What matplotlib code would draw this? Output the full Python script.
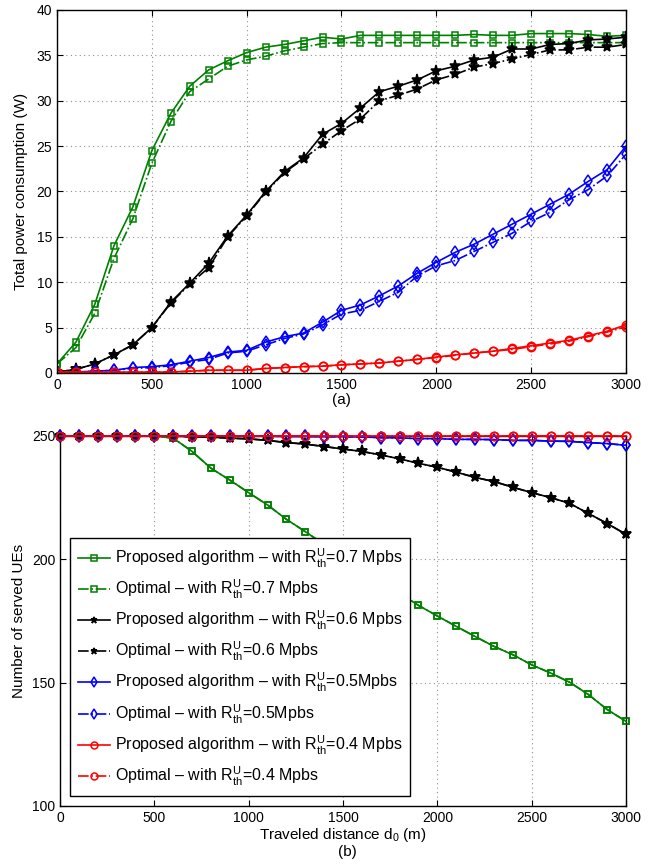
import numpy as np
import matplotlib
matplotlib.use("Agg")
import matplotlib.pyplot as plt

plt.rcParams['font.family'] = ['Liberation Sans', 'DejaVu Sans']
plt.rcParams['mathtext.fontset'] = 'custom'
plt.rcParams['mathtext.rm'] = 'Liberation Sans'
plt.rcParams['mathtext.it'] = 'Liberation Sans'

# traveled distance (m), one sample every 100 m
dist = list(range(0, 3001, 100))

# (a) total power consumption (W)
pw_prop_07 = [1.0, 3.4, 7.6, 14.0, 18.3, 24.5, 28.6, 31.6, 33.4, 34.4, 35.3, 35.9, 36.2, 36.6, 37.0, 36.8,
              37.2, 37.2, 37.2, 37.2, 37.2, 37.2, 37.3, 37.2, 37.2, 37.4, 37.4, 37.4, 37.3, 37.1, 37.2]
pw_opt_07 = [1.0, 2.8, 6.6, 12.6, 17.0, 23.1, 27.7, 31.0, 32.4, 33.8, 34.5, 34.9, 35.5, 35.9, 36.3, 36.4,
             36.4, 36.4, 36.4, 36.4, 36.4, 36.4, 36.4, 36.4, 36.4, 36.4, 36.4, 36.4, 36.4, 36.4, 36.4]
pw_prop_06 = [0.1, 0.4, 1.0, 2.0, 3.1, 5.0, 7.8, 9.9, 12.1, 15.1, 17.4, 20.0, 22.2, 23.7, 26.3, 27.5,
              29.2, 31.0, 31.6, 32.3, 33.3, 33.8, 34.5, 34.8, 35.7, 35.7, 36.2, 36.3, 36.7, 36.8, 37.0]
pw_opt_06 = [0.1, 0.4, 1.0, 2.0, 3.1, 5.0, 7.7, 9.8, 11.6, 15.0, 17.3, 19.9, 22.1, 23.6, 25.2, 26.7,
             28.0, 30.0, 30.6, 31.3, 32.3, 32.9, 33.7, 34.1, 34.6, 35.1, 35.6, 35.6, 35.9, 35.9, 36.2]
pw_prop_05 = [0.1, 0.1, 0.2, 0.3, 0.6, 0.7, 0.9, 1.3, 1.7, 2.3, 2.5, 3.4, 4.0, 4.4, 5.6, 6.9,
              7.5, 8.5, 9.6, 11.0, 12.2, 13.3, 14.2, 15.3, 16.4, 17.5, 18.6, 19.7, 21.1, 22.4, 25.0]
pw_opt_05 = [0.1, 0.1, 0.2, 0.3, 0.5, 0.6, 0.8, 1.2, 1.5, 2.2, 2.4, 3.1, 3.8, 4.3, 5.3, 6.5,
             6.9, 7.9, 8.9, 10.7, 11.8, 12.4, 13.4, 14.4, 15.4, 16.7, 17.7, 19.1, 20.2, 21.7, 24.1]
pw_prop_04 = [0.1, 0.1, 0.1, 0.1, 0.1, 0.1, 0.1, 0.2, 0.3, 0.3, 0.3, 0.5, 0.6, 0.7, 0.75, 0.9,
              1.0, 1.1, 1.3, 1.5, 1.75, 2.0, 2.2, 2.4, 2.7, 3.0, 3.3, 3.6, 4.1, 4.6, 5.3]
pw_opt_04 = [0.1, 0.1, 0.1, 0.1, 0.1, 0.1, 0.1, 0.2, 0.3, 0.3, 0.3, 0.5, 0.6, 0.7, 0.75, 0.9,
             1.0, 1.1, 1.3, 1.5, 1.7, 1.95, 2.2, 2.4, 2.6, 2.9, 3.2, 3.5, 4.0, 4.5, 5.1]

# (b) number of served UEs
ue_07 = [250, 250, 250, 250, 250, 250, 249.1, 243.7, 236.9, 232.1, 227.0, 222.0, 216.2, 211.2, 206.0, 201.0,
         196.0, 191.0, 186.2, 181.3, 177.0, 172.8, 168.7, 164.7, 161.3, 157.2, 153.9, 150.2, 145.2, 139.1, 134.3]
ue_06 = [250, 250, 250, 250, 250, 250, 250, 249.6, 249.5, 249.1, 248.8, 248.2, 247.3, 246.7, 245.7, 244.7,
         243.7, 242.3, 240.7, 238.9, 237.3, 235.3, 233.2, 231.5, 229.2, 227.0, 225.0, 222.7, 218.6, 214.5, 210.1]
ue_05 = [250, 250, 250, 250, 250, 250, 250, 250, 250, 250, 249.9, 249.9, 249.8, 249.8, 249.7, 249.7,
         249.6, 249.3, 249.2, 248.9, 248.9, 248.6, 248.6, 248.5, 248.2, 248.2, 247.9, 247.8, 247.3, 246.9, 246.2]
ue_04 = [250] * 31

labels = [
    r'Proposed algorithm – with $\mathrm{R^{U}_{th}}$=0.7 Mpbs',
    r'Optimal – with $\mathrm{R^{U}_{th}}$=0.7 Mpbs',
    r'Proposed algorithm – with $\mathrm{R^{U}_{th}}$=0.6 Mpbs',
    r'Optimal – with $\mathrm{R^{U}_{th}}$=0.6 Mpbs',
    r'Proposed algorithm – with $\mathrm{R^{U}_{th}}$=0.5Mpbs',
    r'Optimal – with $\mathrm{R^{U}_{th}}$=0.5Mpbs',
    r'Proposed algorithm – with $\mathrm{R^{U}_{th}}$=0.4 Mpbs',
    r'Optimal – with $\mathrm{R^{U}_{th}}$=0.4 Mpbs',
]

green, black, blue, red = '#008000', '#000000', '#0000ff', '#ff0000'
styles = [
    dict(color=green, marker='s', ms=5, mfc='none'),
    dict(color=black, marker='*', ms=8, mfc=black),
    dict(color=blue, marker='d', ms=6, mfc='none'),
    dict(color=red, marker='o', ms=6, mfc='none'),
]

fig = plt.figure(figsize=(6.64, 8.67), dpi=100)
ax1 = fig.add_axes([0.0858, 0.5698, 0.857, 0.4187])
ax2 = fig.add_axes([0.0904, 0.0704, 0.8524, 0.4268])

top = [(pw_prop_07, pw_opt_07), (pw_prop_06, pw_opt_06), (pw_prop_05, pw_opt_05), (pw_prop_04, pw_opt_04)]
bot = [ue_07, ue_06, ue_05, ue_04]

for (prop, opt), st in zip(top, styles):
    ax1.plot(dist, opt, linestyle='-.', lw=1.2, mew=1.1, **st)
    ax1.plot(dist, prop, linestyle='-', lw=1.2, mew=1.1, **st)

handles = []
for ue, st in zip(bot, styles):
    h1, = ax2.plot(dist, ue, linestyle='-', lw=1.2, mew=1.1, clip_on=False, zorder=3, **st)
    h2, = ax2.plot(dist, ue, linestyle='-.', lw=1.2, mew=1.1, clip_on=False, **st)
    handles += [h1, h2]

for ax in (ax1, ax2):
    ax.set_xlim(0, 3000)
    ax.set_xticks(range(0, 3001, 500))
    ax.grid(True, linestyle=(0, (1, 3)), color='#909090', lw=0.8)
    ax.tick_params(direction='in', top=True, right=True, labelsize=10, length=4)
    for sp in ax.spines.values():
        sp.set_linewidth(1.0)

ax1.set_ylim(0, 40)
ax1.set_yticks(range(0, 41, 5))
ax1.set_ylabel('Total power consumption (W)', fontsize=11, labelpad=6)
ax1.set_xlabel('(a)', fontsize=11, labelpad=1)

ax2.set_ylim(100, 250)
ax2.set_yticks([100, 150, 200, 250])
ax2.set_ylabel('Number of served UEs', fontsize=11, labelpad=4)
ax2.set_xlabel(r'Traveled distance d$_{\mathrm{0}}$ (m)', fontsize=11, labelpad=1)
fig.text(0.5226, 0.013, '(b)', fontsize=11, ha='center')

leg = ax2.legend(handles, labels, loc='lower left', bbox_to_anchor=(0.0177, 0.027),
                 borderaxespad=0, fontsize=11.5, frameon=True, fancybox=False,
                 framealpha=1, edgecolor='black', handlelength=2.0,
                 labelspacing=0.5, borderpad=0.5, handletextpad=0.3)
leg.get_frame().set_linewidth(1.0)
leg.set_zorder(5)
for lh in leg.legend_handles:
    lh.set_markersize(5)

fig.savefig('out.png', dpi=100)
